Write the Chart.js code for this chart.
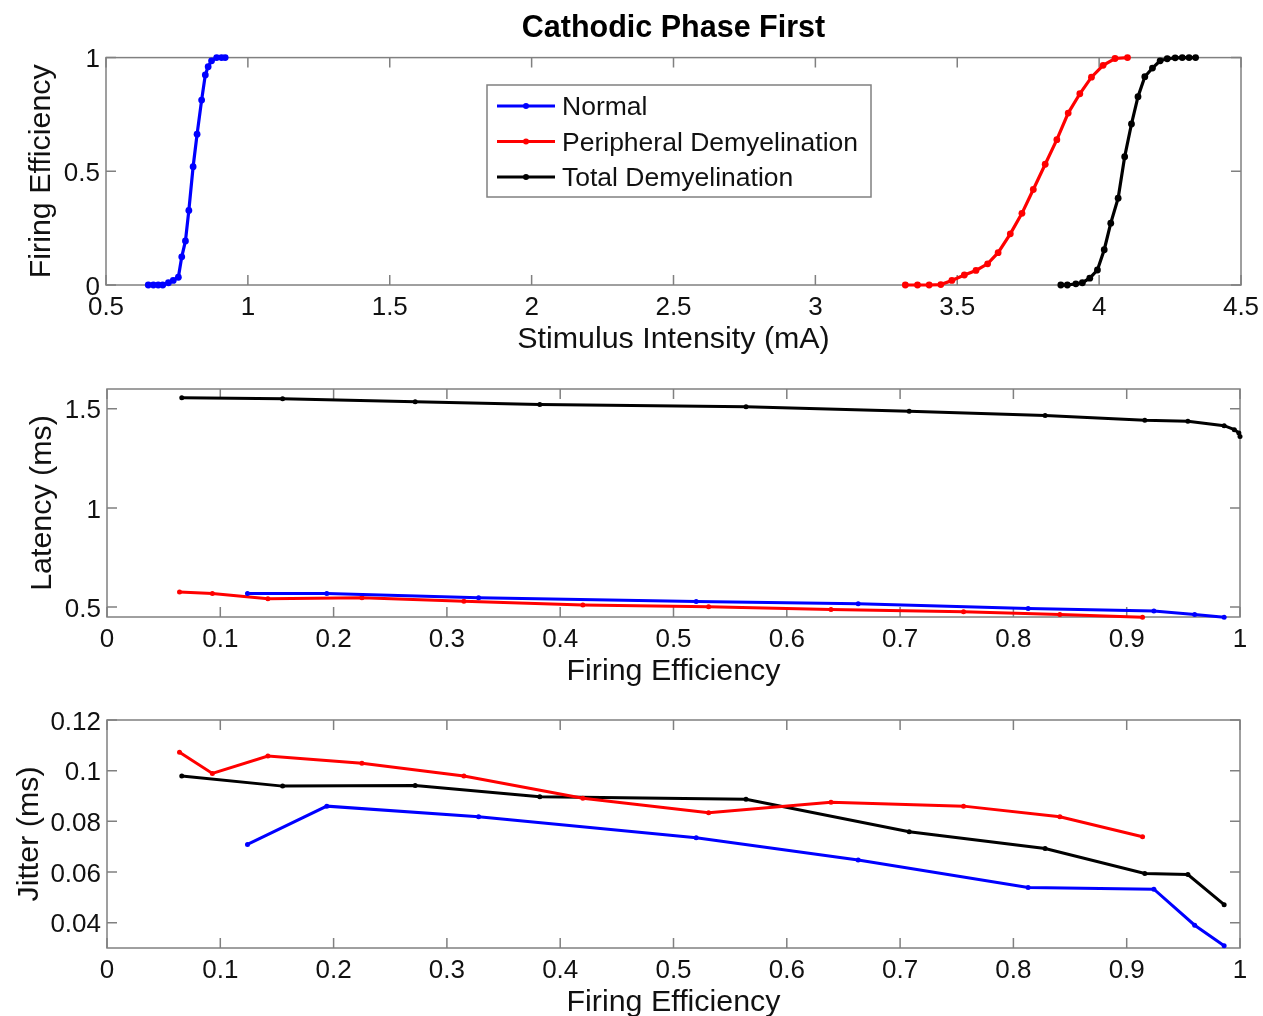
<!DOCTYPE html>
<html>
<head>
<meta charset="utf-8">
<title>Cathodic Phase First</title>
<script src="https://cdn.jsdelivr.net/npm/chart.js@4.4.1/dist/chart.umd.min.js"></script>
<style>
  html, body { margin: 0; padding: 0; background: #fff; overflow: hidden; }
  canvas { position: absolute; left: 0; }
</style>
</head>
<body>
<canvas id="c1" width="1263" height="360" style="top:0px"></canvas>
<canvas id="c2" width="1263" height="330" style="top:360px"></canvas>
<canvas id="c3" width="1263" height="340" style="top:690px"></canvas>
<script>
var seriesNames = ["Normal", "Peripheral Demyelination", "Total Demyelination"];
var seriesColors = ["#0000ff", "#ff0000", "#000000"];

// panel 1: firing efficiency vs stimulus intensity (mA)
var normalI = [0.649, 0.667, 0.684, 0.700, 0.720, 0.737, 0.755, 0.767, 0.780, 0.792, 0.807, 0.821, 0.837, 0.850, 0.860, 0.872, 0.890, 0.907, 0.920];
var normalFE = [0, 0, 0, 0, 0.01, 0.02, 0.034, 0.124, 0.194, 0.328, 0.52, 0.663, 0.813, 0.924, 0.96, 0.986, 1, 1, 1];
var periphI = [3.317, 3.360, 3.401, 3.442, 3.481, 3.525, 3.566, 3.607, 3.644, 3.687, 3.728, 3.768, 3.810, 3.851, 3.891, 3.932, 3.973, 4.014, 4.056, 4.100];
var periphFE = [0, 0, 0, 0.002, 0.02, 0.044, 0.064, 0.093, 0.142, 0.225, 0.315, 0.42, 0.531, 0.639, 0.756, 0.841, 0.914, 0.966, 0.996, 1];
var totalI = [3.865, 3.888, 3.918, 3.941, 3.967, 3.994, 4.018, 4.041, 4.067, 4.090, 4.114, 4.137, 4.161, 4.188, 4.215, 4.240, 4.268, 4.293, 4.317, 4.340];
var totalFE = [0, 0, 0.005, 0.01, 0.03, 0.066, 0.155, 0.272, 0.382, 0.564, 0.708, 0.828, 0.916, 0.954, 0.986, 0.995, 0.999, 1, 1, 1];

// panel 2: latency (ms) vs firing efficiency
var normalEff = [0.124, 0.194, 0.328, 0.520, 0.663, 0.813, 0.924, 0.960, 0.986];
var normalLat = [0.568, 0.568, 0.547, 0.528, 0.517, 0.493, 0.480, 0.463, 0.449];
var periphEff = [0.064, 0.093, 0.142, 0.225, 0.315, 0.420, 0.531, 0.639, 0.756, 0.841, 0.914];
var periphLat = [0.576, 0.569, 0.542, 0.547, 0.530, 0.510, 0.502, 0.488, 0.476, 0.463, 0.449];
var totalEffLat = [0.066, 0.155, 0.272, 0.382, 0.564, 0.708, 0.828, 0.916, 0.954, 0.986, 0.995, 0.999, 1.0];
var totalLat = [1.556, 1.551, 1.536, 1.522, 1.510, 1.488, 1.466, 1.442, 1.437, 1.415, 1.395, 1.378, 1.361];

// panel 3: jitter (ms) vs firing efficiency
var normalJit = [0.0709, 0.0860, 0.0818, 0.0735, 0.0647, 0.0539, 0.0532, 0.0390, 0.0309];
var periphJit = [0.1073, 0.0989, 0.1058, 0.1029, 0.0979, 0.0891, 0.0834, 0.0875, 0.0860, 0.0818, 0.0739];
var totalEffJit = [0.066, 0.155, 0.272, 0.382, 0.564, 0.708, 0.828, 0.916, 0.954, 0.986];
var totalJit = [0.0979, 0.0939, 0.0941, 0.0897, 0.0887, 0.0759, 0.0693, 0.0594, 0.0590, 0.0471];

// tick labels
var intensityTicks = [0.5, 1, 1.5, 2, 2.5, 3, 3.5, 4, 4.5];
var effTicks = [0, 0.1, 0.2, 0.3, 0.4, 0.5, 0.6, 0.7, 0.8, 0.9, 1];
var feTicks = [0, 0.5, 1];
var latTicks = [0.5, 1, 1.5];
var jitTicks = [0.04, 0.06, 0.08, 0.1, 0.12];

Chart.defaults.font.family = "'Liberation Sans', Arial, sans-serif";
Chart.defaults.color = "#111";

function pts(xs, ys) {
  return xs.map(function (x, i) { return { x: x, y: ys[i] }; });
}

function series(i, xs, ys, lw, r) {
  return {
    label: seriesNames[i],
    data: pts(xs, ys),
    borderColor: seriesColors[i],
    backgroundColor: seriesColors[i],
    borderWidth: lw,
    pointRadius: r,
    pointBorderWidth: 0,
    tension: 0,
    clip: false
  };
}

// MATLAB style box with inward ticks on all four sides
var matlabAxes = {
  id: "matlabAxes",
  beforeDatasetsDraw: function (chart) {
    var ctx = chart.ctx, a = chart.chartArea;
    var xs = chart.scales.x, ys = chart.scales.y;
    ctx.save();
    ctx.strokeStyle = "#808080";
    ctx.lineWidth = 1.5;
    ctx.strokeRect(a.left, a.top, a.right - a.left, a.bottom - a.top);
    ctx.beginPath();
    xs.ticks.forEach(function (t) {
      var px = xs.getPixelForValue(t.value);
      ctx.moveTo(px, a.bottom); ctx.lineTo(px, a.bottom - 10);
      ctx.moveTo(px, a.top); ctx.lineTo(px, a.top + 10);
    });
    ys.ticks.forEach(function (t) {
      var py = ys.getPixelForValue(t.value);
      ctx.moveTo(a.left, py); ctx.lineTo(a.left + 10, py);
      ctx.moveTo(a.right, py); ctx.lineTo(a.right - 10, py);
    });
    ctx.stroke();
    ctx.restore();
  }
};

var boxLegend = {
  id: "boxLegend",
  afterDatasetsDraw: function (chart) {
    var ctx = chart.ctx;
    var x0 = 487, y0 = 85, w = 384, h = 112;
    ctx.save();
    ctx.fillStyle = "#fff";
    ctx.fillRect(x0, y0, w, h);
    ctx.strokeStyle = "#808080";
    ctx.lineWidth = 1.5;
    ctx.strokeRect(x0, y0, w, h);
    ctx.font = "26.5px 'Liberation Sans', Arial, sans-serif";
    ctx.textBaseline = "middle";
    chart.data.datasets.forEach(function (ds, i) {
      var cy = y0 + 21 + i * 35.5;
      ctx.strokeStyle = ds.borderColor;
      ctx.lineWidth = 3;
      ctx.beginPath();
      ctx.moveTo(x0 + 10, cy); ctx.lineTo(x0 + 68, cy);
      ctx.stroke();
      ctx.fillStyle = ds.borderColor;
      ctx.beginPath();
      ctx.arc(x0 + 39, cy, 3, 0, Math.PI * 2);
      ctx.fill();
      ctx.fillStyle = "#111";
      ctx.fillText(ds.label, x0 + 75, cy + 2);
    });
    ctx.restore();
  }
};

function axisOpts(o) {
  return {
    x: {
      type: "linear",
      min: o.xmin, max: o.xmax,
      grid: { display: false, drawTicks: false },
      border: { display: false },
      afterBuildTicks: function (s) { s.ticks = o.xticks.map(function (v) { return { value: v }; }); },
      afterFit: function (s) { s.height = o.xh; s.paddingLeft = 0; s.paddingRight = 0; },
      ticks: { font: { size: 26 }, padding: 7, maxRotation: 0, autoSkip: false, callback: function (v) { return String(v); } },
      title: { display: true, text: o.xtitle, font: { size: 30.4 }, padding: { top: 0, bottom: o.xtpad } }
    },
    y: {
      min: o.ymin, max: o.ymax,
      grid: { display: false, drawTicks: false },
      border: { display: false },
      afterBuildTicks: function (s) { s.ticks = o.yticks.map(function (v) { return { value: v }; }); },
      afterFit: function (s) { s.width = o.yw; },
      ticks: { font: { size: 26 }, padding: 6, labelOffset: 2.5, callback: function (v) { return String(v); } },
      title: { display: true, text: o.ytitle, font: { size: 30.4 }, padding: { top: o.ytpad, bottom: 0 } }
    }
  };
}

new Chart(document.getElementById("c1"), {
  type: "line",
  data: {
    datasets: [
      series(0, normalI, normalFE, 3.2, 3.4),
      series(1, periphI, periphFE, 3.2, 3.4),
      series(2, totalI, totalFE, 3.2, 3.4)
    ]
  },
  options: {
    responsive: false,
    animation: false,
    layout: { padding: { left: 0, right: 22, top: 0, bottom: 0 } },
    plugins: {
      legend: { display: false },
      tooltip: { enabled: false },
      title: {
        display: true, fullSize: false,
        text: "Cathodic Phase First",
        color: "#000",
        font: { size: 30.5, weight: "bold" },
        padding: { top: 10, bottom: 11 }
      }
    },
    scales: axisOpts({
      xmin: 0.5, xmax: 4.5, xticks: intensityTicks, xh: 75, xtpad: 2,
      xtitle: "Stimulus Intensity (mA)",
      ymin: 0, ymax: 1, yticks: feTicks, yw: 106, ytpad: 23,
      ytitle: "Firing Efficiency"
    })
  },
  plugins: [matlabAxes, boxLegend]
});

new Chart(document.getElementById("c2"), {
  type: "line",
  data: {
    datasets: [
      series(0, normalEff, normalLat, 3, 2.5),
      series(1, periphEff, periphLat, 3, 2.5),
      series(2, totalEffLat, totalLat, 3, 2.5)
    ]
  },
  options: {
    responsive: false,
    animation: false,
    layout: { padding: { left: 0, right: 23, top: 29, bottom: 0 } },
    plugins: { legend: { display: false }, tooltip: { enabled: false } },
    scales: axisOpts({
      xmin: 0, xmax: 1, xticks: effTicks, xh: 73, xtpad: 0,
      xtitle: "Firing Efficiency",
      ymin: 0.45, ymax: 1.6, yticks: latTicks, yw: 107, ytpad: 24,
      ytitle: "Latency (ms)"
    })
  },
  plugins: [matlabAxes]
});

new Chart(document.getElementById("c3"), {
  type: "line",
  data: {
    datasets: [
      series(0, normalEff, normalJit, 3, 2.5),
      series(1, periphEff, periphJit, 3, 2.5),
      series(2, totalEffJit, totalJit, 3, 2.5)
    ]
  },
  options: {
    responsive: false,
    animation: false,
    layout: { padding: { left: 0, right: 23, top: 30, bottom: 0 } },
    plugins: { legend: { display: false }, tooltip: { enabled: false } },
    scales: axisOpts({
      xmin: 0, xmax: 1, xticks: effTicks, xh: 82, xtpad: 9,
      xtitle: "Firing Efficiency",
      ymin: 0.03, ymax: 0.12, yticks: jitTicks, yw: 107, ytpad: 11,
      ytitle: "Jitter (ms)"
    })
  },
  plugins: [matlabAxes]
});
</script>
</body>
</html>
